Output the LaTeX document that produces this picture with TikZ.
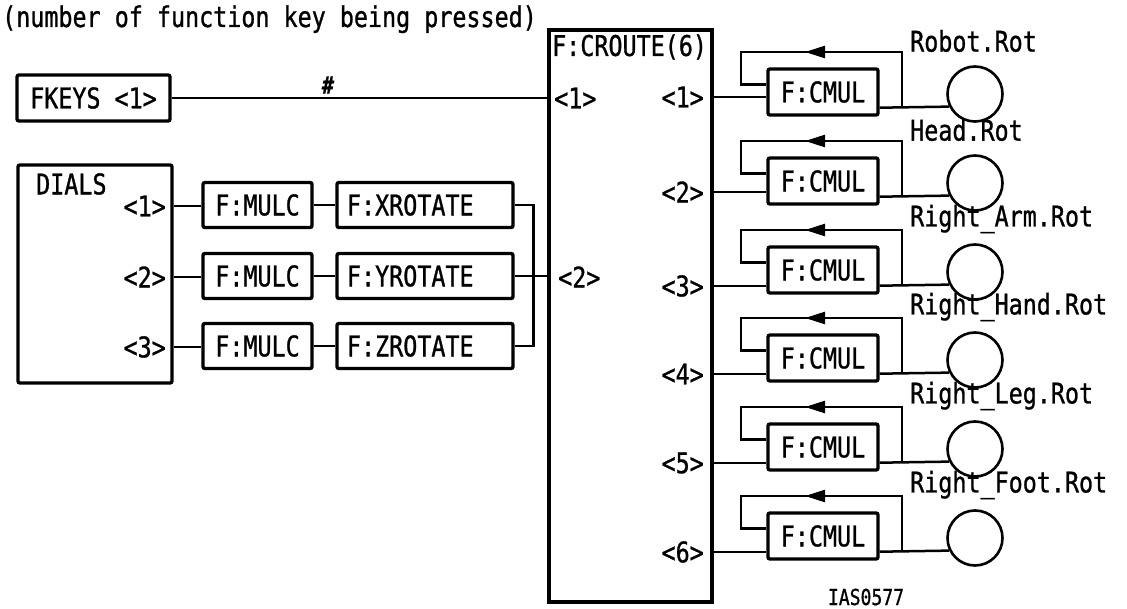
\documentclass[tikz,border=0pt]{standalone}
\usepackage{fontspec}
\setmonofont[FakeStretch=0.82, FakeBold=0.9]{DejaVu Sans Mono}
\usetikzlibrary{arrows.meta}

\begin{document}
\begin{tikzpicture}[x=1pt,y=-1pt,
  every node/.style={font=\fontsize{28.5}{30}\selectfont\ttfamily, inner sep=0pt},
  blk/.style={draw, line width=3.4pt, rounded corners=2pt},
  wire/.style={line width=2.5pt},
  fb/.style={line width=2.5pt, line join=miter},
  circ/.style={draw, circle, line width=2.6pt, minimum size=55pt},
  fbarrow/.style={-{Triangle[length=20pt,width=12pt]}},
]
\useasboundingbox[fill=white] (0,0) rectangle (1127,609);

% caption of the FKEYS value
\node[anchor=base west] (note) at (2,27) {(number of function key being pressed)};

% function keys
\node[blk, minimum width=153pt, minimum height=46pt] (fkeys) at (93.5,98) {FKEYS <1>};
\node[font=\fontsize{24}{26}\selectfont\ttfamily\bfseries\itshape] (hash) at (328,85) {\#};

% routing network
\node[draw, line width=3.4pt, minimum width=163pt, minimum height=572pt] (croute) at (630.5,316) {};
\node[anchor=west] (crtitle) at (552,47) {F:CROUTE(6)};
\node[anchor=west] (cin1) at (554,98) {<1>};
\node[anchor=west] (cin2) at (558,277) {<2>};
\draw[wire] (fkeys.east) -- (fkeys.east -| croute.west);

% dials
\node[blk, minimum width=154pt, minimum height=218pt] (dials) at (95,274) {};
\node[anchor=west] (dialsT) at (36,184) {DIALS};
\foreach \i/\yb/\ax in {1/205/X, 2/276/Y, 3/346/Z}{
  \node[anchor=east] (dp\i) at (166,\yb+1) {<\i>};
  \node[blk, minimum width=109pt, minimum height=45pt] (mu\i) at (257.5,\yb) {F:MULC};
  \node[blk, minimum height=45pt, text width=156pt, inner xsep=10pt, align=left] (ro\i) at (425,\yb) {F:\ax ROTATE};
  \draw[wire] (dials.east |- dp\i) -- (mu\i.west |- dp\i);
  \draw[wire] (mu\i.east) -- (ro\i.west);
}
\draw[wire] (ro1.east) -- ++(19,0) |- (ro3.east);
\draw[wire] (ro2.east) -- (ro2.east -| croute.west);

% outputs: multiplier with feedback, driving each rotation
\foreach \i/\y/\yin/\lab in {1/108/97/Robot.Rot, 2/197/192/Head.Rot,
    3/286/286/Right\_Arm.Rot, 4/374/374/Right\_Hand.Rot,
    5/463/463/Right\_Leg.Rot, 6/552/552/Right\_Foot.Rot}{
  \node[blk, minimum width=110pt, minimum height=46pt] (cm\i) at (823,\y-16) {F:CMUL};
  \node[anchor=east] (pr\i) at (704,\yin) {<\i>};
  \node[circ] (ci\i) at (975,\y-14) {};
  \node[anchor=west] (lb\i) at (910,\y-67) {\lab};
  \coordinate (fr\i) at (902,\y-2);
  \coordinate (ft\i) at (902,\y-56);
  \coordinate (fl\i) at (741,\y-56);
  \draw[wire] (croute.east |- pr\i) -- (cm\i.west |- pr\i);
  \draw[wire] ([yshift=9pt]cm\i.south east) -- (ci\i.206);
  \draw[fb] (fr\i) -- (ft\i) -- (fl\i) |- ([yshift=-17pt]cm\i.north west);
  \draw[wire, fbarrow] (ft\i) -- ++(-97,0);
}

\node[font=\fontsize{22}{24}\selectfont\ttfamily] (figid) at (866,597) {IAS0577};
\end{tikzpicture}
\end{document}
